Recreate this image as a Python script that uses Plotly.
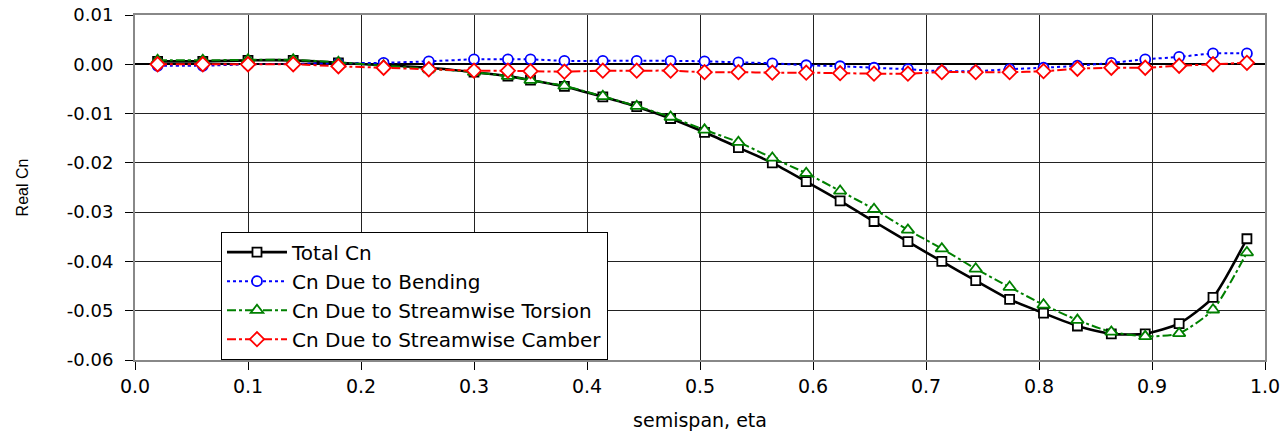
import plotly.graph_objects as go

eta = [0.02, 0.06, 0.10, 0.14, 0.18, 0.22, 0.26, 0.30, 0.33, 0.35, 0.38, 0.414, 0.444, 0.474,
       0.504, 0.534, 0.564, 0.594, 0.624, 0.654, 0.684, 0.714, 0.744, 0.774, 0.804, 0.834,
       0.864, 0.894, 0.924, 0.954, 0.984]

total_cn = [0.0006, 0.0006, 0.0008, 0.0008, 0.0003, -0.0002, -0.0007, -0.0016, -0.0024, -0.0032,
            -0.0045, -0.0066, -0.0086, -0.0110, -0.0138, -0.0169, -0.0200, -0.0238, -0.0277,
            -0.0319, -0.0360, -0.0400, -0.0439, -0.0477, -0.0505, -0.0531, -0.0547, -0.0547,
            -0.0526, -0.0473, -0.0354]

bending_cn = [-0.0003, -0.0003, 0.0000, 0.0001, 0.0002, 0.0003, 0.0006, 0.0010, 0.0010, 0.0010,
              0.0007, 0.0007, 0.0007, 0.0007, 0.0006, 0.0004, 0.0002, -0.0002, -0.0004, -0.0007,
              -0.0010, -0.0014, -0.0014, -0.0010, -0.0007, -0.0003, 0.0003, 0.0010, 0.0015,
              0.0022, 0.0022]

torsion_cn = [0.0008, 0.0008, 0.0009, 0.0009, 0.0004, -0.0003, -0.0009, -0.0016, -0.0024, -0.0032,
              -0.0044, -0.0065, -0.0085, -0.0107, -0.0133, -0.0158, -0.0190, -0.0221, -0.0257,
              -0.0294, -0.0336, -0.0374, -0.0415, -0.0452, -0.0488, -0.0519, -0.0543, -0.0552,
              -0.0546, -0.0498, -0.0382]

camber_cn = [0.0000, 0.0000, 0.0000, 0.0000, -0.0004, -0.0007, -0.0010, -0.0013, -0.0013, -0.0014,
             -0.0015, -0.0013, -0.0013, -0.0013, -0.0016, -0.0016, -0.0017, -0.0017, -0.0018,
             -0.0019, -0.0019, -0.0016, -0.0016, -0.0016, -0.0014, -0.0009, -0.0007, -0.0007,
             -0.0003, 0.0000, 0.0003]

x_ticks = [0.0, 0.1, 0.2, 0.3, 0.4, 0.5, 0.6, 0.7, 0.8, 0.9, 1.0]
x_tick_labels = ["0.0", "0.1", "0.2", "0.3", "0.4", "0.5", "0.6", "0.7", "0.8", "0.9", "1.0"]
y_ticks = [0.01, 0.0, -0.01, -0.02, -0.03, -0.04, -0.05, -0.06]
y_tick_labels = ["0.01", "0.00", "-0.01", "-0.02", "-0.03", "-0.04", "-0.05", "-0.06"]

series = [
    ("Total Cn", total_cn, "#000000", "solid", "square", 9, 2.6),
    ("Cn Due to Bending", bending_cn, "#0000FF", "dot", "circle", 10, 2),
    ("Cn Due to Streamwise Torsion", torsion_cn, "#008000", "dashdot", "triangle-up", 11, 2),
    ("Cn Due to Streamwise Camber", camber_cn, "#FF0000", "dashdot", "diamond", 11, 2),
]

fig = go.Figure()
for name, vals, color, dash, sym, size, width in series:
    fig.add_trace(go.Scatter(
        x=eta, y=vals, name=name, mode="lines+markers",
        line=dict(color=color, dash=dash, width=width, shape="spline", smoothing=0.6),
        marker=dict(symbol=sym, size=size, color="white",
                    line=dict(color=color, width=1.8)),
    ))

wide_font = "DejaVu Sans, Verdana, sans-serif"
fig.update_layout(
    width=1285, height=433,
    margin=dict(l=135, r=20, t=15, b=73, autoexpand=False),
    paper_bgcolor="white", plot_bgcolor="white",
    font=dict(family=wide_font, size=18, color="black"),
    showlegend=True,
    legend=dict(x=0.0761, y=0.372, xanchor="left", yanchor="top",
                bgcolor="white", bordercolor="black", borderwidth=1,
                font=dict(family=wide_font, size=20), tracegroupgap=0, itemwidth=60),
)
fig.update_xaxes(
    range=[0, 1], tickvals=x_ticks, ticktext=x_tick_labels,
    tickfont=dict(family=wide_font, size=19), automargin=False,
    ticklabeloverflow="allow",
    showgrid=True, gridcolor="#222222", gridwidth=1,
    showline=True, linecolor="#888888", linewidth=2, mirror=True,
    ticks="outside", ticklen=8, tickcolor="black",
    zeroline=False,
    title=dict(text="semispan, eta", font=dict(family=wide_font, size=19), standoff=18),
)
fig.update_yaxes(
    range=[-0.06, 0.01], tickvals=y_ticks, ticktext=y_tick_labels,
    tickfont=dict(family=wide_font, size=18), automargin=False,
    ticklabeloverflow="allow", ticklabelstandoff=8,
    showgrid=True, gridcolor="#222222", gridwidth=1,
    showline=True, linecolor="#888888", linewidth=2, mirror=True,
    ticks="outside", ticklen=8, tickcolor="black",
    zeroline=True, zerolinecolor="black", zerolinewidth=1.5,
    title=dict(text="Real Cn", font=dict(family="Liberation Sans, Arial, sans-serif", size=16),
               standoff=34),
)

fig.write_html(
    "out.html",
    config={"displayModeBar": False},
    post_script="document.body.style.margin='0';document.body.style.overflow='hidden';"
                "document.documentElement.style.overflow='hidden';",
)
